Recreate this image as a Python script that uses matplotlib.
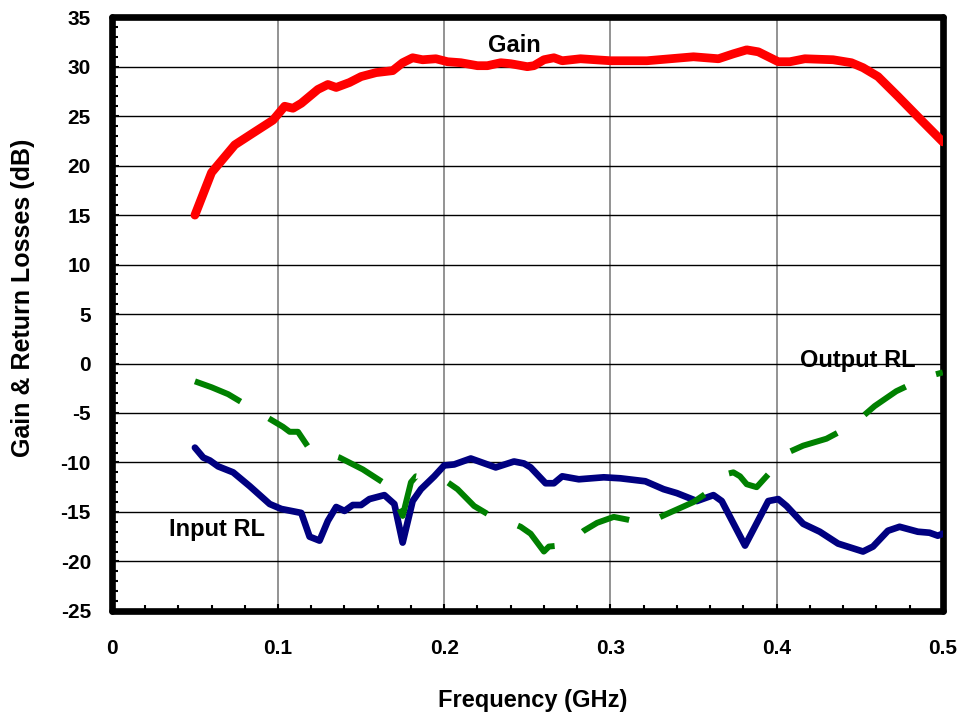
import numpy as np
import matplotlib.pyplot as plt
from matplotlib.ticker import MultipleLocator

plt.rcParams['font.family'] = ['Liberation Sans', 'DejaVu Sans']
plt.rcParams['font.weight'] = 'bold'
plt.rcParams['axes.unicode_minus'] = False

# Gain curve (dB)
gain_f = [0.050, 0.060, 0.074, 0.085, 0.097, 0.104, 0.109, 0.114, 0.124, 0.130,
          0.135, 0.143, 0.150, 0.159, 0.169, 0.175, 0.181, 0.187, 0.195, 0.202,
          0.210, 0.220, 0.226, 0.234, 0.240, 0.250, 0.254, 0.260, 0.266, 0.271,
          0.282, 0.300, 0.322, 0.336, 0.350, 0.365, 0.374, 0.382, 0.389, 0.401,
          0.408, 0.417, 0.434, 0.445, 0.452, 0.461, 0.473, 0.487, 0.500]
gain_db = [15.0, 19.3, 22.1, 23.3, 24.6, 26.0, 25.8, 26.3, 27.7, 28.2,
           27.9, 28.4, 29.0, 29.4, 29.6, 30.4, 30.9, 30.7, 30.8, 30.5,
           30.4, 30.1, 30.1, 30.4, 30.3, 30.0, 30.1, 30.7, 30.9, 30.6,
           30.8, 30.6, 30.6, 30.8, 31.0, 30.8, 31.3, 31.7, 31.5, 30.5,
           30.5, 30.8, 30.7, 30.4, 29.9, 29.0, 27.0, 24.6, 22.4]

# Input return loss (dB)
in_f = [0.050, 0.055, 0.059, 0.064, 0.073, 0.083, 0.095, 0.102, 0.114, 0.119,
        0.125, 0.130, 0.135, 0.140, 0.145, 0.150, 0.155, 0.164, 0.170, 0.175,
        0.181, 0.186, 0.194, 0.200, 0.206, 0.216, 0.231, 0.242, 0.248, 0.252,
        0.261, 0.266, 0.271, 0.281, 0.296, 0.306, 0.321, 0.332, 0.340, 0.352,
        0.362, 0.367, 0.381, 0.395, 0.401, 0.406, 0.416, 0.426, 0.437, 0.452,
        0.458, 0.467, 0.474, 0.485, 0.492, 0.497, 0.500]
in_db = [-8.5, -9.5, -9.8, -10.4, -11.0, -12.4, -14.2, -14.7, -15.1, -17.5,
         -17.9, -15.9, -14.5, -14.9, -14.3, -14.3, -13.7, -13.3, -14.2, -18.1,
         -13.9, -12.7, -11.4, -10.3, -10.2, -9.6, -10.5, -9.9, -10.1, -10.5,
         -12.1, -12.1, -11.4, -11.7, -11.5, -11.6, -11.9, -12.7, -13.1, -13.9,
         -13.3, -13.9, -18.4, -13.9, -13.7, -14.4, -16.2, -17.0, -18.2, -19.0,
         -18.5, -16.9, -16.5, -17.0, -17.1, -17.4, -17.2]

# Output return loss (dB)
out_f = [0.050, 0.060, 0.070, 0.078, 0.087, 0.096, 0.103, 0.107, 0.112, 0.118,
         0.127, 0.137, 0.151, 0.163, 0.170, 0.175, 0.180, 0.183, 0.192, 0.202,
         0.208, 0.218, 0.226, 0.236, 0.246, 0.252, 0.260, 0.263, 0.269, 0.275,
         0.284, 0.292, 0.302, 0.311, 0.321, 0.334, 0.350, 0.357, 0.364, 0.369,
         0.374, 0.378, 0.382, 0.388, 0.395, 0.401, 0.408, 0.416, 0.430, 0.439,
         0.448, 0.459, 0.472, 0.482, 0.491, 0.500]
out_db = [-1.8, -2.4, -3.1, -3.9, -4.8, -5.7, -6.4, -6.9, -6.9, -8.4,
          -9.0, -9.5, -10.7, -12.0, -13.5, -15.4, -12.0, -11.4, -11.7, -12.0,
          -12.7, -14.4, -15.2, -15.8, -16.5, -17.2, -19.0, -18.5, -18.4, -18.2,
          -16.9, -16.1, -15.5, -15.8, -16.2, -15.2, -14.0, -13.2, -12.3, -11.2,
          -11.0, -11.4, -12.2, -12.5, -11.2, -9.8, -8.9, -8.3, -7.6, -6.8,
          -5.9, -4.3, -2.8, -2.0, -1.3, -0.9]

x_ticks = [0, 0.1, 0.2, 0.3, 0.4, 0.5]
x_labels = ['0', '0.1', '0.2', '0.3', '0.4', '0.5']

fig = plt.figure(figsize=(9.64, 7.17), dpi=100)
ax = fig.add_axes([0.116, 0.148, 0.862, 0.828])

ax.plot(gain_f, gain_db, color='#ff0000', lw=6.3, solid_capstyle='round', zorder=3)
ax.plot(in_f, in_db, color='#000080', lw=4.8, solid_capstyle='round', zorder=3)
ax.plot(out_f, out_db, color='#008000', lw=4.3, linestyle=(0, (8.4, 5.5)),
        dash_capstyle='butt', zorder=3)

ax.set_xlim(0, 0.5)
ax.set_ylim(-25, 35)
ax.set_xticks(x_ticks, x_labels)
ax.xaxis.set_minor_locator(MultipleLocator(0.02))
ax.yaxis.set_major_locator(MultipleLocator(5))
ax.yaxis.set_minor_locator(MultipleLocator(1))

ax.grid(True, which='major', axis='x', color='#808080', lw=1.2)
ax.grid(True, which='major', axis='y', color='#000000', lw=1.0)
ax.tick_params(which='both', direction='in', labelsize=15, width=1.5)
ax.tick_params(which='major', length=5)
ax.tick_params(which='minor', length=4)
ax.tick_params(axis='x', pad=20)
ax.tick_params(axis='y', pad=15)
for s in ax.spines.values():
    s.set_linewidth(4.8)
    s.set_capstyle('round')

ax.set_xlabel('Frequency (GHz)', fontsize=17, fontweight='bold')
ax.set_ylabel('Gain & Return Losses (dB)', fontsize=18, fontweight='bold')
ax.xaxis.set_label_coords(0.507, -0.132)
ax.yaxis.set_label_coords(-0.092, 0.528)

ax.text(0.242, 32.1, 'Gain', fontsize=17, fontweight='bold', ha='center', va='center')
ax.text(0.063, -16.8, 'Input RL', fontsize=17, fontweight='bold', ha='center', va='center')
ax.text(0.449, 0.3, 'Output RL', fontsize=17, fontweight='bold', ha='center', va='center')

fig.savefig('out.png', dpi=100)
